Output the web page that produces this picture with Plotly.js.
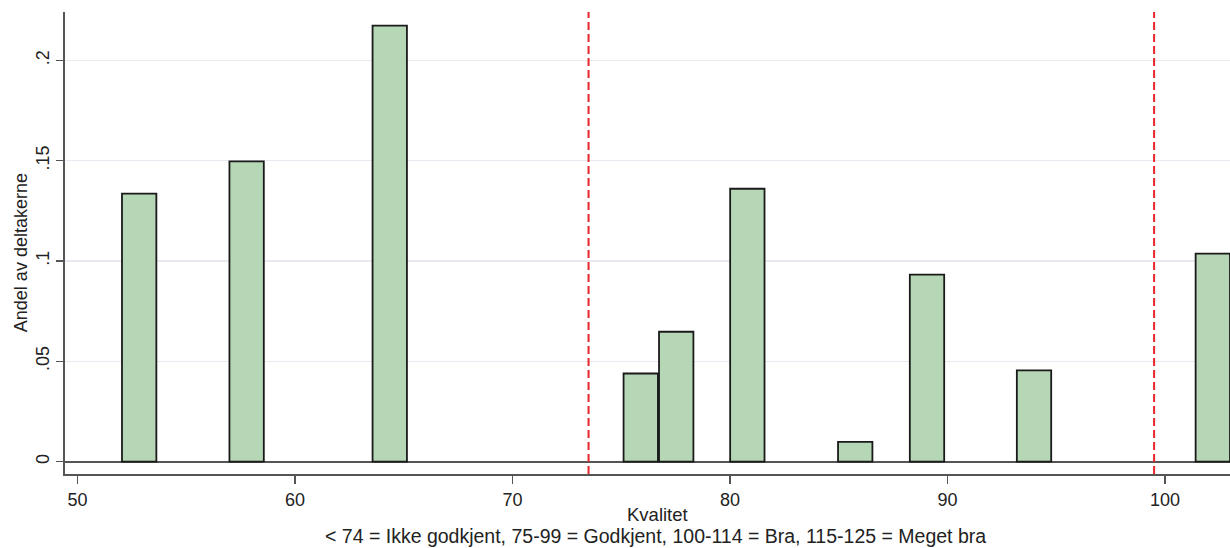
<!DOCTYPE html>
<html>
<head>
<meta charset="utf-8">
<script src="https://cdn.plot.ly/plotly-3.0.1.min.js"></script>
<style>html,body{margin:0;padding:0;background:#fff;}#chart{width:1230px;height:548px;}</style>
</head>
<body>
<div id="chart"></div>
<script>
// Data
const binCenters = [52.84, 57.78, 64.36, 75.9, 77.53, 80.8, 85.76, 89.06, 93.98, 102.2];
const shares = [0.1336, 0.1496, 0.2173, 0.0439, 0.0647, 0.136, 0.0098, 0.0932, 0.0455, 0.1037];
const cutoffs = [73.5, 99.5];
const xTicks = [50, 60, 70, 80, 90, 100];
const yTicks = [0, 0.05, 0.1, 0.15, 0.2];
const yTickText = ["0", ".05", ".1", ".15", ".2"];
const xTitle = "Kvalitet";
const xNote = "< 74 = Ikke godkjent, 75-99 = Godkjent, 100-114 = Bra, 115-125 = Meget bra";
const yTitle = "Andel av deltakerne";

const font = "Arial, 'Liberation Sans', sans-serif";

const trace = {
  type: "bar",
  x: binCenters,
  y: shares,
  width: binCenters.map(() => 1.58),
  marker: {color: "#b6d7b5", line: {color: "#1a1a1a", width: 1.8}},
  hoverinfo: "x+y"
};

const shapes = cutoffs.map(c => ({
  type: "line", xref: "x", yref: "paper", x0: c, x1: c, y0: 0, y1: 1,
  line: {color: "#e8262d", width: 2, dash: "8px,4px"}
}));

const layout = {
  width: 1230, height: 548,
  margin: {l: 65, r: 0, t: 12, b: 74},
  paper_bgcolor: "#ffffff", plot_bgcolor: "#ffffff",
  showlegend: false,
  font: {family: font, size: 18, color: "#222"},
  xaxis: {
    range: [49.43, 102.99],
    tickvals: xTicks, ticktext: xTicks.map(String),
    ticks: "outside", ticklen: 8, tickwidth: 1.5, tickcolor: "#555",
    showline: true, linecolor: "#555", linewidth: 2,
    showgrid: false, zeroline: false,
    tickfont: {family: font, size: 18, color: "#222"}
  },
  yaxis: {
    range: [-0.0062, 0.2241],
    tickvals: yTicks, ticktext: yTickText, tickangle: -90,
    ticks: "outside", ticklen: 7, tickwidth: 1.5, tickcolor: "#555",
    showline: true, linecolor: "#555", linewidth: 2,
    showgrid: true, gridcolor: "#e8e9f1", gridwidth: 1.5,
    zeroline: true, zerolinecolor: "#555", zerolinewidth: 2,
    tickfont: {family: font, size: 18, color: "#222"}
  },
  shapes: shapes,
  annotations: [
    {text: yTitle, xref: "paper", yref: "paper", x: 0, xshift: -44, y: 0.478,
     textangle: -90, xanchor: "center", yanchor: "middle", showarrow: false,
     font: {family: font, size: 18, color: "#222"}},
    {text: xTitle, xref: "paper", yref: "paper", x: (657 - 65) / 1165, y: 0, yshift: -40.5,
     xanchor: "center", yanchor: "middle", showarrow: false, borderpad: 0,
     font: {family: font, size: 18.5, color: "#222"}},
    {text: xNote.replace(/</g, "&lt;"), xref: "paper", yref: "paper", x: (655 - 65) / 1165, y: 0, yshift: -62.2,
     xanchor: "center", yanchor: "middle", showarrow: false, borderpad: 0,
     font: {family: font, size: 19.5, color: "#222"}}
  ],
  bargap: 0
};

Plotly.newPlot("chart", [trace], layout, {displayModeBar: false, staticPlot: true});
</script>
</body>
</html>
